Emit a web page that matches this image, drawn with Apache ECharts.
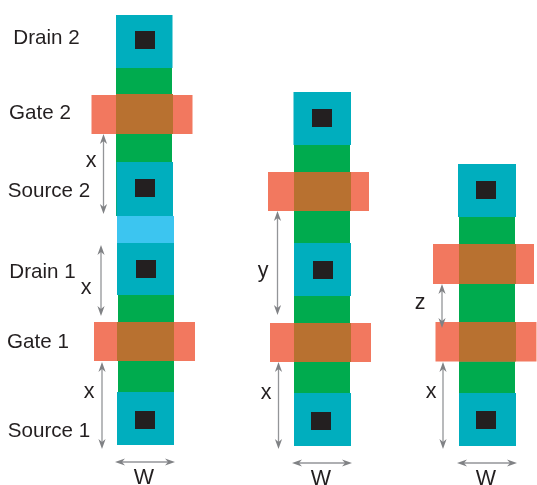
<!DOCTYPE html>
<html>
<head>
<meta charset="utf-8">
<style>html,body{margin:0;padding:0;background:#fff}#c{width:537px;height:485px}</style>
<script src="https://cdn.jsdelivr.net/npm/echarts@6/dist/echarts.min.js"></script>
</head>
<body>
<div id="c"></div>
<script>
// each rectangle: [left, right, top, bottom] in diagram units
const greenRects = [[116,172,68,162],[116,172,162,216],[118,174,295,392],[294,350,145,243],[294,350,296,393],[459,515,217,393]];
const blueRects = [[117,174,216,243]];
const tealRects = [[116,172.5,15,68],[116.5,173,162,216],[117,174,243,295],[117,174,392,445],
  [293.5,351,92,145],[294,351,243,296],[294,351,393,446],
  [458,516,164,217],[459,516,393,446]];
const gateRects = [[91.5,192.5,95,134],[94,195,322,361],[268,369,172,211],[270,371,323,362],[433,534,244,284],[435.5,536.5,322,361.5]];
const overlapRects = [[116,173,94,134],[117,174,322,361],[294,351,172,211],[294,351,323,362],[459,516,244,284],[459,516,322,361.5]];
const contactRects = [[135,155,31,49],[135,155,179,197],[136,156,260,278],[135,155,411,429],
  [312,332,109,127],[313,333,261,279],[311,331,412,430],
  [476,496,181,199],[476,496,411,429]];
// dimension arrows: [x1, y1, x2, y2]
const dimArrows = [[103.5,134,103.5,214],[101,245,101,316],[102,362,102,449],[115,462,175,462],
  [277.5,211,277.5,315],[278.5,362,278.5,449],[292,463,352,463],
  [442,284,442,328],[443,362,443,449],[457,463,517,463]];
// text labels: [x, y, text]
const deviceLabels = [[46.5,38,'Drain 2'],[40,113,'Gate 2'],[49,191,'Source 2'],[42.5,272,'Drain 1'],[38,342,'Gate 1'],[49,431,'Source 1']];
const dimLabels = [[91,161,'x'],[86,288,'x'],[89,392,'x'],[144,478,'W'],[263,271,'y'],[266,393,'x'],[321,479,'W'],[420,303,'z'],[431,392,'x'],[486,479,'W']];

function rectSeries(data, color){
  return {type:'custom',coordinateSystem:'cartesian2d',clip:false,data,silent:true,
    encode:{x:[0,1],y:[2,3]},
    renderItem(params,api){
      const a=api.coord([api.value(0),api.value(2)]), b=api.coord([api.value(1),api.value(3)]);
      return {type:'rect',shape:{x:a[0],y:a[1],width:b[0]-a[0],height:b[1]-a[1]},style:{fill:color}};
    }};
}
function arrowSeries(data){
  const gray='#808285', hl=10, hw=3.6, notch=7;
  return {type:'custom',coordinateSystem:'cartesian2d',clip:false,data,silent:true,
    encode:{x:[0,2],y:[1,3]},
    renderItem(params,api){
      const p=api.coord([api.value(0),api.value(1)]), q=api.coord([api.value(2),api.value(3)]);
      const L=Math.hypot(q[0]-p[0],q[1]-p[1]), ux=(q[0]-p[0])/L, uy=(q[1]-p[1])/L, nx=-uy, ny=ux;
      const head=(t,d)=>[[t[0],t[1]],
        [t[0]+d*ux*hl+nx*hw,t[1]+d*uy*hl+ny*hw],
        [t[0]+d*ux*notch,t[1]+d*uy*notch],
        [t[0]+d*ux*hl-nx*hw,t[1]+d*uy*hl-ny*hw]];
      return {type:'group',children:[
        {type:'line',shape:{x1:p[0]+ux*5,y1:p[1]+uy*5,x2:q[0]-ux*5,y2:q[1]-uy*5},style:{stroke:'#939598',lineWidth:1.3}},
        {type:'polygon',shape:{points:head(p,1)},style:{fill:gray}},
        {type:'polygon',shape:{points:head(q,-1)},style:{fill:gray}}
      ]};
    }};
}
function textSeries(data,size){
  return {type:'custom',coordinateSystem:'cartesian2d',clip:false,data,silent:true,
    encode:{x:0,y:1},
    renderItem(params,api){
      const p=api.coord([api.value(0),api.value(1)]);
      return {type:'text',style:{x:p[0],y:p[1],text:data[params.dataIndex][2],fill:'#231F20',
        font:size+'px "Liberation Sans", Arial, sans-serif',textAlign:'center',textVerticalAlign:'middle'}};
    }};
}
const chart=echarts.init(document.getElementById('c'),null,{renderer:'canvas',width:537,height:485});
chart.setOption({
  animation:false,
  backgroundColor:'#ffffff',
  grid:{left:0,right:0,top:0,bottom:0},
  xAxis:{type:'value',min:0,max:537,show:false},
  yAxis:{type:'value',min:0,max:485,inverse:true,show:false},
  tooltip:{show:false},
  series:[
    rectSeries(greenRects,'#00AB4E'),
    rectSeries(blueRects,'#3CC5F0'),
    rectSeries(tealRects,'#00AEBE'),
    rectSeries(gateRects,'#F2785F'),
    rectSeries(overlapRects,'#B87130'),
    rectSeries(contactRects,'#231F20'),
    arrowSeries(dimArrows),
    textSeries(deviceLabels,20.6),
    textSeries(dimLabels,21.5)
  ]
});
</script>
</body>
</html>
